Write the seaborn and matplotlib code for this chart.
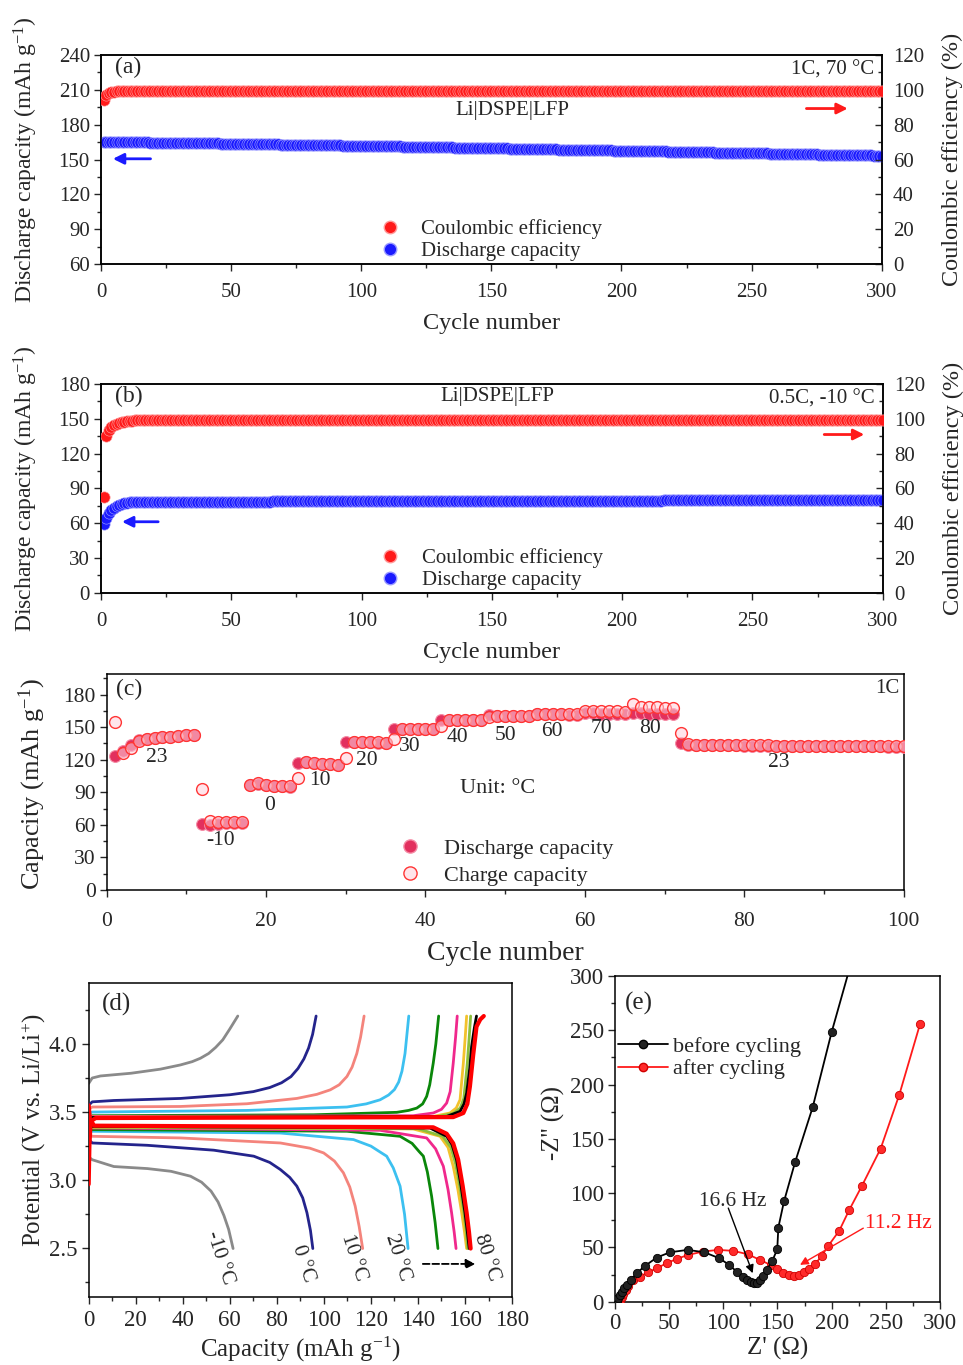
import numpy as np
import matplotlib
matplotlib.use('Agg')
import matplotlib.pyplot as plt
import seaborn as sns
from matplotlib.lines import Line2D
from matplotlib.ticker import MultipleLocator

sns.set_theme(style='ticks')
plt.rcParams['font.family'] = ['Liberation Serif', 'DejaVu Serif']
plt.rcParams['mathtext.fontset'] = 'custom'
plt.rcParams['mathtext.rm'] = 'Liberation Serif'
plt.rcParams['mathtext.it'] = 'Liberation Serif:italic'
plt.rcParams['axes.linewidth'] = 1.1
plt.rcParams['axes.edgecolor'] = 'black'

#%% data (a): 1C, 70 C, 300 cycles
cycles_ab = np.arange(1, 301)
ce_a = [94.0, 97.2, 98.4, 98.8, 99.0] + [99.1] * 295
cap_a = [
    164.8, 165.1, 165.2, 165.2, 165.1, 165.1, 165.0, 165.0, 165.0, 164.9, 164.9, 164.9, 164.8, 164.8, 164.8, 164.7, 164.7, 164.7, 164.6, 164.6,
    164.6, 164.5, 164.5, 164.5, 164.4, 164.4, 164.4, 164.3, 164.3, 164.3, 164.2, 164.2, 164.2, 164.1, 164.1, 164.1, 164.0, 164.0, 164.0, 163.9,
    163.9, 163.9, 163.8, 163.8, 163.8, 163.7, 163.7, 163.7, 163.6, 163.6, 163.6, 163.5, 163.5, 163.5, 163.4, 163.4, 163.4, 163.3, 163.3, 163.3,
    163.2, 163.2, 163.2, 163.1, 163.1, 163.0, 163.0, 163.0, 162.9, 162.9, 162.9, 162.8, 162.8, 162.8, 162.7, 162.7, 162.6, 162.6, 162.6, 162.5,
    162.5, 162.5, 162.4, 162.4, 162.3, 162.3, 162.3, 162.2, 162.2, 162.2, 162.1, 162.1, 162.0, 162.0, 162.0, 161.9, 161.9, 161.9, 161.8, 161.8,
    161.7, 161.7, 161.7, 161.6, 161.6, 161.5, 161.5, 161.5, 161.4, 161.4, 161.3, 161.3, 161.3, 161.2, 161.2, 161.1, 161.1, 161.1, 161.0, 161.0,
    160.9, 160.9, 160.9, 160.8, 160.8, 160.7, 160.7, 160.7, 160.6, 160.6, 160.5, 160.5, 160.4, 160.4, 160.4, 160.3, 160.3, 160.2, 160.2, 160.2,
    160.1, 160.1, 160.0, 160.0, 159.9, 159.9, 159.9, 159.8, 159.8, 159.7, 159.7, 159.6, 159.6, 159.6, 159.5, 159.5, 159.4, 159.4, 159.3, 159.3,
    159.3, 159.2, 159.2, 159.1, 159.1, 159.0, 159.0, 159.0, 158.9, 158.9, 158.8, 158.8, 158.7, 158.7, 158.7, 158.6, 158.6, 158.5, 158.5, 158.4,
    158.4, 158.4, 158.3, 158.3, 158.2, 158.2, 158.1, 158.1, 158.1, 158.0, 158.0, 157.9, 157.9, 157.8, 157.8, 157.8, 157.7, 157.7, 157.6, 157.6,
    157.5, 157.5, 157.5, 157.4, 157.4, 157.3, 157.3, 157.2, 157.2, 157.2, 157.1, 157.1, 157.0, 157.0, 156.9, 156.9, 156.9, 156.8, 156.8, 156.7,
    156.7, 156.6, 156.6, 156.6, 156.5, 156.5, 156.4, 156.4, 156.3, 156.3, 156.3, 156.2, 156.2, 156.1, 156.1, 156.0, 156.0, 156.0, 155.9, 155.9,
    155.8, 155.8, 155.7, 155.7, 155.7, 155.6, 155.6, 155.5, 155.5, 155.4, 155.4, 155.4, 155.3, 155.3, 155.2, 155.2, 155.1, 155.1, 155.1, 155.0,
    155.0, 154.9, 154.9, 154.8, 154.8, 154.8, 154.7, 154.7, 154.6, 154.6, 154.5, 154.5, 154.5, 154.4, 154.4, 154.3, 154.3, 154.2, 154.2, 154.2,
    154.1, 154.1, 154.0, 154.0, 153.9, 153.9, 153.9, 153.8, 153.8, 153.7, 153.7, 153.6, 153.6, 153.6, 153.5, 153.5, 153.4, 153.4, 153.4, 153.3,
]

#%% data (b): 0.5C, -10 C
ce_b = [55.0, 90.0, 93.4, 95.2, 96.5, 97.2, 97.7, 98.1, 98.4, 98.7,
        98.9, 99.0, 99.1, 99.2, 99.3, 99.3, 99.4, 99.4, 99.5, 99.5] + [99.4] * 280
cap_b = ([59.0, 64.5, 68.5, 71.5, 73.5, 75.0, 76.0, 76.8, 77.3, 77.7, 78.0, 78.2, 78.4, 78.5, 78.5]
         + [78.5] * 25 + [78.6] * 25 + [78.7] * 25 + [78.8] * 25 + [78.9] * 25
         + [79.0] * 25 + [79.2] * 25 + [79.4] * 25 + [79.6] * 25 + [79.8] * 25
         + [80.1] * 20 + [80.4] * 15)

#%% data (c): rate at different temperatures
cycles_c = np.arange(1, 101)
dis_c = [
    123.5, 128.5, 134.0, 138.5, 139.5, 140.0, 140.8, 141.4, 142.0, 142.5, 142.8,
    60.5, 60.0, 61.0, 61.5, 61.5, 62.0,
    96.5, 98.0, 96.5, 95.5, 95.5, 95.0,
    117.3, 117.5, 117.0, 116.3, 116.2, 115.5,
    136.2, 136.0, 136.0, 136.0, 135.8, 135.5,
    148.5, 148.5, 148.5, 148.6, 148.8, 148.5,
    156.7, 156.5, 156.5, 156.5, 156.4, 156.2,
    161.0, 160.5, 160.5, 160.3, 160.2, 160.0,
    162.0, 162.0, 161.8, 161.8, 161.6, 161.5,
    163.0, 162.8, 162.6, 162.5, 162.3, 162.2,
    163.5, 162.8, 162.5, 162.3, 162.2, 162.0,
    135.5, 134.0, 133.6,
    133.4, 133.3, 133.3, 133.2, 133.2, 133.1, 133.1, 133.0, 133.0, 132.9, 132.9, 132.8, 132.8,
    132.7, 132.7, 132.6, 132.6, 132.5, 132.5, 132.4, 132.4, 132.3, 132.3, 132.2, 132.2, 132.1,
]
chg_c = [
    154.5, 126.5, 131.0, 137.0, 139.3, 140.0, 140.8, 141.4, 142.0, 142.6, 142.9,
    93.5, 63.7, 62.5, 62.5, 62.5, 62.5,
    97.0, 98.9, 97.0, 95.8, 95.8, 95.5,
    103.5, 117.8, 117.3, 116.3, 116.3, 115.4,
    121.9, 136.2, 136.2, 136.2, 136.0, 135.6,
    138.7, 148.5, 148.5, 148.6, 148.8, 148.5,
    151.5, 156.7, 156.7, 156.6, 156.5, 156.3,
    159.2, 160.7, 160.7, 160.5, 160.4, 160.3,
    162.5, 162.6, 162.5, 162.5, 162.4, 162.3,
    165.0, 165.0, 164.8, 164.7, 164.5, 164.4,
    171.4, 169.0, 168.5, 168.2, 168.0, 167.8,
    144.8, 134.5, 134.0,
    133.6, 133.5, 133.5, 133.4, 133.4, 133.3, 133.3, 133.2, 133.2, 133.1, 133.1, 133.0, 133.0,
    132.9, 132.9, 132.8, 132.8, 132.7, 132.7, 132.6, 132.6, 132.5, 132.5, 132.4, 132.4, 132.3,
]
temp_labels_c = ['23', '-10', '0', '10', '20', '30', '40', '50', '60', '70', '80', '23']
temp_pos_c = [(6.3, 122), (14.3, 46), (20.4, 78), (26.8, 101), (32.7, 119.5), (38.0, 132),
              (44.0, 140.5), (50.0, 142), (55.9, 146), (62.1, 149), (68.2, 149), (84.3, 117.5)]

#%% data (d): charge / discharge profiles
temps_d = ['-10', '0', '10', '20', '30', '40', '50', '60', '70', '80']
colors_d = ['#8a8a8a', '#24248c', '#f4847c', '#3cc0f0', '#0a870a', '#f0288c',
            '#f2c22c', '#8cbf3c', '#000000', '#ff0000']
chg_q = [
    [0, 1.5, 5, 18, 30.5, 39, 44, 47.5, 51, 54, 57, 60, 63.4],
    [0, 1.5, 10.7, 39, 60, 70, 77, 82, 86, 89, 91.5, 93.5, 95.2, 96.7],
    [0, 1.5, 39, 67.3, 88.5, 97, 102.7, 106.5, 109.8, 112, 114, 115.6, 117.1],
    [0, 1.5, 67.3, 109.8, 118, 123.9, 127.5, 130, 131.8, 133.2, 134.5, 136.1],
    [0, 1.5, 95.6, 131, 136, 139.5, 142, 143.7, 145, 146.5, 147.6, 148.8],
    [0, 1.5, 138, 146.5, 150, 152.2, 153.7, 155, 156, 156.7],
    [0, 1.5, 146.5, 153.6, 156.3, 157.9, 159.3, 160.1, 160.7],
    [0, 1.5, 148, 155, 158, 159.5, 161, 161.8, 162.4],
    [0, 1.5, 152.2, 157.9, 159.6, 160.7, 162, 162.8, 164, 164.9],
    [0, 0.3, 0.8, 1.5, 3, 155, 159.3, 161, 162.1, 163.5, 164.9, 166.5, 168],
]
chg_v = [
    [3.71, 3.75, 3.765, 3.785, 3.815, 3.846, 3.87, 3.895, 3.93, 3.975, 4.03, 4.11, 4.205],
    [3.55, 3.575, 3.585, 3.60, 3.627, 3.65, 3.68, 3.715, 3.76, 3.82, 3.89, 3.97, 4.07, 4.205],
    [3.52, 3.537, 3.541, 3.561, 3.60, 3.63, 3.663, 3.70, 3.761, 3.83, 3.93, 4.05, 4.205],
    [3.49, 3.50, 3.512, 3.537, 3.56, 3.59, 3.625, 3.665, 3.72, 3.80, 3.93, 4.205],
    [3.46, 3.473, 3.48, 3.498, 3.512, 3.529, 3.56, 3.615, 3.70, 3.859, 4.0, 4.205],
    [3.46, 3.468, 3.473, 3.493, 3.52, 3.566, 3.65, 3.859, 4.05, 4.205],
    [3.45, 3.463, 3.468, 3.493, 3.53, 3.59, 3.859, 4.05, 4.205],
    [3.45, 3.46, 3.466, 3.49, 3.53, 3.60, 3.86, 4.05, 4.205],
    [3.45, 3.46, 3.468, 3.505, 3.56, 3.639, 3.82, 3.98, 4.12, 4.205],
    [2.97, 3.25, 3.42, 3.44, 3.456, 3.463, 3.493, 3.56, 3.688, 3.92, 4.127, 4.18, 4.205],
]
dis_q = [
    [0, 1.5, 10.7, 25, 35, 43.3, 48, 52, 55, 57.5, 59.5, 61.4],
    [0, 1.5, 24.9, 53.2, 70.2, 77, 81.5, 85.5, 88.5, 91, 92.8, 94.3, 95.3],
    [0, 1.5, 39, 81.5, 94, 99.9, 104.5, 108.3, 111, 113.3, 115, 116.5],
    [0, 1.5, 81.5, 112.6, 120, 124.5, 126.7, 129.5, 132.4, 134.3, 135.8],
    [0, 1.5, 109.8, 132.4, 137.5, 140.5, 142.3, 144, 145.8, 147.3, 148.5],
    [0, 1.5, 123.9, 143.7, 147.5, 150.8, 152.8, 154.3, 155.4, 156.2],
    [0, 1.5, 138, 149.4, 152.8, 155, 157, 158.6, 159.8, 160.7],
    [0, 1.5, 140, 150.5, 154, 156, 157.8, 159.5, 160.5, 161.2],
    [0, 1.5, 145.1, 152.2, 154.5, 156.4, 158.3, 160, 161, 161.8],
    [0, 0.5, 2.3, 146.5, 152.2, 155, 157.1, 159, 160.7, 161.7, 162.4],
]
dis_v = [
    [3.17, 3.15, 3.10, 3.085, 3.065, 3.029, 2.985, 2.92, 2.84, 2.74, 2.639, 2.498],
    [3.30, 3.273, 3.256, 3.22, 3.176, 3.13, 3.078, 3.02, 2.956, 2.87, 2.761, 2.63, 2.498],
    [3.34, 3.322, 3.31, 3.273, 3.235, 3.2, 3.14, 3.054, 2.95, 2.81, 2.66, 2.498],
    [3.37, 3.359, 3.346, 3.298, 3.25, 3.2, 3.176, 3.09, 2.956, 2.75, 2.498],
    [3.38, 3.371, 3.359, 3.322, 3.27, 3.21, 3.176, 3.06, 2.883, 2.69, 2.498],
    [3.39, 3.383, 3.366, 3.31, 3.23, 3.102, 2.93, 2.761, 2.62, 2.498],
    [3.40, 3.388, 3.376, 3.322, 3.24, 3.102, 2.93, 2.761, 2.62, 2.498],
    [3.40, 3.39, 3.378, 3.322, 3.24, 3.12, 2.95, 2.77, 2.63, 2.498],
    [3.41, 3.395, 3.383, 3.322, 3.26, 3.151, 2.96, 2.761, 2.62, 2.498],
    [3.55, 3.45, 3.40, 3.388, 3.341, 3.27, 3.151, 2.96, 2.761, 2.62, 2.498],
]
label_d = ['-10 °C', '0 °C', '10 °C', '20 °C', '80 °C']
label_d_pos = [(55.8, 2.43), (91.3, 2.39), (112.5, 2.43), (131.6, 2.43), (169.2, 2.43)]

#%% data (e): Nyquist plots
zre_before = [1.5, 3.1, 4.6, 6.2, 8.3, 10.8, 14.5, 20.0, 27.7, 38.5, 50.8, 67.1, 82.5, 96.3,
              105.5, 112.3, 117.8, 121.5, 125.2, 128.3, 131.4, 133.8, 136.9, 140.0, 145.2,
              149.8, 150.8, 156.0, 166.2, 182.5, 200.0, 218.0]
zim_before = [0.9, 3.1, 6.2, 9.2, 12.3, 15.4, 20.0, 26.2, 32.9, 40.6, 45.5, 47.7, 45.5, 40.0,
              33.8, 27.7, 23.1, 20.0, 17.8, 16.9, 17.5, 20.0, 23.7, 29.2, 37.5,
              48.3, 68.3, 92.3, 128.3, 179.1, 248.3, 312.0]
zre_after = [4.6, 6.2, 7.7, 9.8, 12.3, 16.3, 23.1, 30.8, 38.5, 47.7, 56.9, 67.7, 81.5, 95.4,
             109.2, 122.5, 133.8, 143.7, 149.8, 155.4, 160.9, 165.5, 170.2, 174.8, 179.4,
             184.9, 190.8, 196.9, 207.1, 216.0, 227.7, 245.2, 262.5, 281.5]
zim_after = [0.9, 4.0, 7.1, 10.8, 14.5, 20.0, 23.1, 27.1, 30.8, 35.4, 39.4, 43.1, 46.2, 47.7,
             46.8, 43.7, 38.5, 33.8, 29.8, 26.2, 24.6, 23.7, 24.6, 27.1, 29.8,
             34.8, 42.2, 51.4, 65.5, 84.0, 106.2, 140.9, 190.8, 255.4]

#%% figure
fig = plt.figure(figsize=(9.63, 13.65), dpi=100)
ax_a = fig.add_axes([0.1049, 0.8066, 0.8107, 0.1531])
ax_b = fig.add_axes([0.1049, 0.5658, 0.8117, 0.1528])
ax_c = fig.add_axes([0.1108, 0.3480, 0.8276, 0.1582])
ax_d = fig.add_axes([0.0921, 0.0496, 0.4396, 0.2305])
ax_e = fig.add_axes([0.6386, 0.0464, 0.3375, 0.2386])

red, red_e = '#ff1a1a', '#ff9a9a'
blue, blue_e = '#1a1aff', '#9a9aff'
ylab_cap = 'Discharge capacity (mAh g$^{-1}$)'


def cycling_panel(ax, cap, ce, ylim, yticks, tag, cond, cell_xy, barrow, rarrow, leg_y):
    ax2 = ax.twinx()
    sns.scatterplot(x=cycles_ab, y=cap, ax=ax, color=blue, edgecolor=blue_e, s=66,
                    linewidth=0.45, zorder=3, legend=False)
    sns.scatterplot(x=cycles_ab, y=ce, ax=ax2, color=red, edgecolor=red_e, s=66,
                    linewidth=0.45, zorder=3, legend=False)
    ax.set_xlim(0, 300)
    ax.set_ylim(*ylim)
    ax2.set_ylim(0, 120)
    ax.set_yticks(yticks)
    ax.yaxis.set_minor_locator(MultipleLocator(15))
    ax.xaxis.set_major_locator(MultipleLocator(50))
    ax.xaxis.set_minor_locator(MultipleLocator(25))
    ax2.yaxis.set_major_locator(MultipleLocator(20))
    ax2.yaxis.set_minor_locator(MultipleLocator(10))
    ax.tick_params(which='major', direction='out', length=5, width=1, labelsize=15, pad=3)
    ax.tick_params(which='minor', direction='out', length=3, width=1)
    ax.tick_params(axis='x', which='major', pad=9)
    ax2.tick_params(which='major', direction='in', length=5, width=1, labelsize=15, pad=8)
    ax2.tick_params(which='minor', direction='in', length=3, width=1)
    ax.set_xlabel('Cycle number', fontsize=17.5)
    ax.set_ylabel(ylab_cap, fontsize=17)
    ax2.set_ylabel('Coulombic efficiency (%)', fontsize=17.5)
    ax.xaxis.set_label_coords(0.5, -0.235)
    ax.yaxis.set_label_coords(-0.078, 0.5)
    ax2.yaxis.set_label_coords(1.077, 0.5)
    ax.text(0.018, 0.94, tag, transform=ax.transAxes, fontsize=17, va='center', ha='left')
    ax.text(0.99, 0.93, cond, transform=ax.transAxes, fontsize=15, va='center', ha='right')
    ax.text(cell_xy[0], cell_xy[1], 'Li|DSPE|LFP', fontsize=15, ha='center', va='center')
    ax.annotate('', xy=barrow[1], xytext=barrow[0],
                arrowprops=dict(arrowstyle='-|>', color=blue, lw=2, mutation_scale=16))
    ax.annotate('', xy=rarrow[1], xytext=rarrow[0],
                arrowprops=dict(arrowstyle='-|>', color=red, lw=2, mutation_scale=16))
    handles = [Line2D([], [], ls='', marker='o', color=red, markeredgecolor=red_e, markersize=9),
               Line2D([], [], ls='', marker='o', color=blue, markeredgecolor=blue_e, markersize=9)]
    ax2.legend(handles, ['Coulombic efficiency', 'Discharge capacity'], loc='center left',
               bbox_to_anchor=(0.357, leg_y), frameon=False, fontsize=15, handlelength=1.0,
               handletextpad=1.0, labelspacing=0.13, borderpad=0, borderaxespad=0)
    return ax2


cycling_panel(ax_a, cap_a, ce_a, (60, 240), range(60, 241, 30), '(a)', '1C, 70 °C',
              (158, 192), ((20.1, 150.6), (3.5, 150.6)), ((270, 193.9), (288, 193.9)), 0.113)
cycling_panel(ax_b, cap_b, ce_b, (0, 180), range(0, 181, 30), '(b)', '0.5C, -10 °C',
              (152, 169), ((23.0, 61.2), (7.0, 61.2)), ((276.5, 136.5), (294, 136.5)), 0.113)

#%% panel (c)
pink_d, pink_de = '#e2305e', '#f58aa4'
sns.scatterplot(x=cycles_c, y=dis_c, ax=ax_c, color=pink_d, edgecolor=pink_de, s=72,
                linewidth=0.8, zorder=3, legend=False)
sns.scatterplot(x=cycles_c, y=chg_c, ax=ax_c, facecolor=(1.0, 0.82, 0.86, 0.55),
                edgecolor='#ff3535', s=72, linewidth=1.0, zorder=4, legend=False)
ax_c.set_xlim(0, 100)
ax_c.set_ylim(0, 199)
ax_c.yaxis.set_major_locator(MultipleLocator(30))
ax_c.yaxis.set_minor_locator(MultipleLocator(15))
ax_c.xaxis.set_major_locator(MultipleLocator(20))
ax_c.xaxis.set_minor_locator(MultipleLocator(10))
ax_c.tick_params(which='major', direction='out', length=5, width=1, labelsize=15.5, pad=3)
ax_c.tick_params(which='minor', direction='out', length=3, width=1)
ax_c.tick_params(axis='x', which='major', pad=11)
ax_c.set_xlabel('Cycle number', fontsize=20)
ax_c.set_ylabel('Capacity (mAh g$^{-1}$)', fontsize=19)
ax_c.xaxis.set_label_coords(0.5, -0.235)
ax_c.yaxis.set_label_coords(-0.074, 0.49)
ax_c.text(0.012, 0.93, '(c)', transform=ax_c.transAxes, fontsize=17, ha='left', va='center')
ax_c.text(0.995, 0.935, '1C', transform=ax_c.transAxes, fontsize=15, ha='right', va='center')
ax_c.text(49.1, 93.7, 'Unit: °C', fontsize=16, ha='center', va='center')
for lab, (xx, yy) in zip(temp_labels_c, temp_pos_c):
    ax_c.text(xx, yy, lab, fontsize=15.5, ha='center', va='center')
handles_c = [Line2D([], [], ls='', marker='o', color=pink_d, markeredgecolor=pink_de, markersize=9.5),
             Line2D([], [], ls='', marker='o', markerfacecolor=(1.0, 0.82, 0.86, 0.55),
                    markeredgecolor='#ff3535', markersize=9.5)]
ax_c.legend(handles_c, ['Discharge capacity', 'Charge capacity'], loc='center left',
            bbox_to_anchor=(0.367, 0.13), frameon=False, fontsize=16, handlelength=1.0,
            handletextpad=1.0, labelspacing=0.3, borderpad=0, borderaxespad=0)

#%% panel (d)
for i, t in enumerate(temps_d):
    lw = 3.0 if t == '80' else 2.0
    sns.lineplot(x=chg_q[i], y=chg_v[i], ax=ax_d, color=colors_d[i], lw=lw, sort=False,
                 estimator=None, zorder=2 + i)
    sns.lineplot(x=dis_q[i], y=dis_v[i], ax=ax_d, color=colors_d[i], lw=lw, sort=False,
                 estimator=None, zorder=2 + i)
ax_d.set_xlim(0, 180)
ax_d.set_ylim(2.14, 4.45)
ax_d.xaxis.set_major_locator(MultipleLocator(20))
ax_d.xaxis.set_minor_locator(MultipleLocator(10))
ax_d.yaxis.set_major_locator(MultipleLocator(0.5))
ax_d.yaxis.set_minor_locator(MultipleLocator(0.25))
ax_d.set_yticks([2.5, 3.0, 3.5, 4.0])
ax_d.tick_params(which='major', direction='out', length=5, width=1, labelsize=16.5, pad=3)
ax_d.tick_params(which='minor', direction='out', length=3, width=1)
ax_d.tick_params(axis='x', which='major', pad=4)
ax_d.set_xlabel('Capacity (mAh g$^{-1}$)', fontsize=18)
ax_d.set_ylabel('Potential (V vs. Li/Li$^{+}$)', fontsize=18)
ax_d.xaxis.set_label_coords(0.5, -0.118)
ax_d.yaxis.set_label_coords(-0.097, 0.53)
ax_d.text(0.03, 0.93, '(d)', transform=ax_d.transAxes, fontsize=18, ha='left', va='center')
for lab, (xx, yy) in zip(label_d, label_d_pos):
    ax_d.text(xx, yy, lab, fontsize=15, rotation=-72, ha='center', va='center',
              rotation_mode='anchor')
ax_d.annotate('', xy=(165.6, 2.385), xytext=(140.9, 2.385),
              arrowprops=dict(arrowstyle='-|>', color='black', lw=1.3, ls='--',
                              mutation_scale=14))

#%% panel (e)
sns.lineplot(x=zre_before, y=zim_before, ax=ax_e, color='black', lw=1.3, sort=False,
             estimator=None, marker='o', markersize=6, markerfacecolor='#222222',
             markeredgecolor='black', markeredgewidth=0.6, zorder=4)
sns.lineplot(x=zre_after, y=zim_after, ax=ax_e, color='#ff1a1a', lw=1.3, sort=False,
             estimator=None, marker='o', markersize=6, markerfacecolor='#ff2a2a',
             markeredgecolor='#d00000', markeredgewidth=0.6, zorder=3)
ax_e.set_xlim(0, 300)
ax_e.set_ylim(0, 300)
for axis in (ax_e.xaxis, ax_e.yaxis):
    axis.set_major_locator(MultipleLocator(50))
    axis.set_minor_locator(MultipleLocator(25))
ax_e.tick_params(which='major', direction='out', length=5, width=1, labelsize=16.5, pad=3)
ax_e.tick_params(which='minor', direction='out', length=3, width=1)
ax_e.set_xlabel("Z' (Ω)", fontsize=18)
ax_e.set_ylabel("-Z'' (Ω)", fontsize=18)
ax_e.xaxis.set_label_coords(0.5, -0.108)
ax_e.yaxis.set_label_coords(-0.154, 0.549)
ax_e.text(0.03, 0.915, '(e)', transform=ax_e.transAxes, fontsize=18, ha='left', va='center')
ax_e.text(108.9, 92.3, '16.6 Hz', fontsize=15.5, ha='center', va='center')
ax_e.annotate('', xy=(127.1, 26.2), xytext=(104.6, 86.2),
              arrowprops=dict(arrowstyle='-|>', color='black', lw=1.0, mutation_scale=12,
                              shrinkA=0, shrinkB=0))
ax_e.text(261.5, 72.3, '11.2 Hz', fontsize=15.5, color='#ff1a1a', ha='center', va='center')
ax_e.annotate('', xy=(170.8, 33.9), xytext=(229.2, 67.7),
              arrowprops=dict(arrowstyle='-|>', color='#ff1a1a', lw=1.0, mutation_scale=12,
                              shrinkA=0, shrinkB=0))
handles_e = [Line2D([], [], color='black', lw=1.3, marker='o', markersize=6,
                    markerfacecolor='#222222', markeredgecolor='black'),
             Line2D([], [], color='#ff1a1a', lw=1.3, marker='o', markersize=6,
                    markerfacecolor='#ff2a2a', markeredgecolor='#d00000')]
ax_e.legend(handles_e, ['before cycling', 'after cycling'], loc='center left',
            bbox_to_anchor=(0.009, 0.749), frameon=False, fontsize=16, handlelength=2.25,
            handletextpad=0.25, labelspacing=0.1, borderpad=0, borderaxespad=0)

fig.savefig('out.png', dpi=100)
